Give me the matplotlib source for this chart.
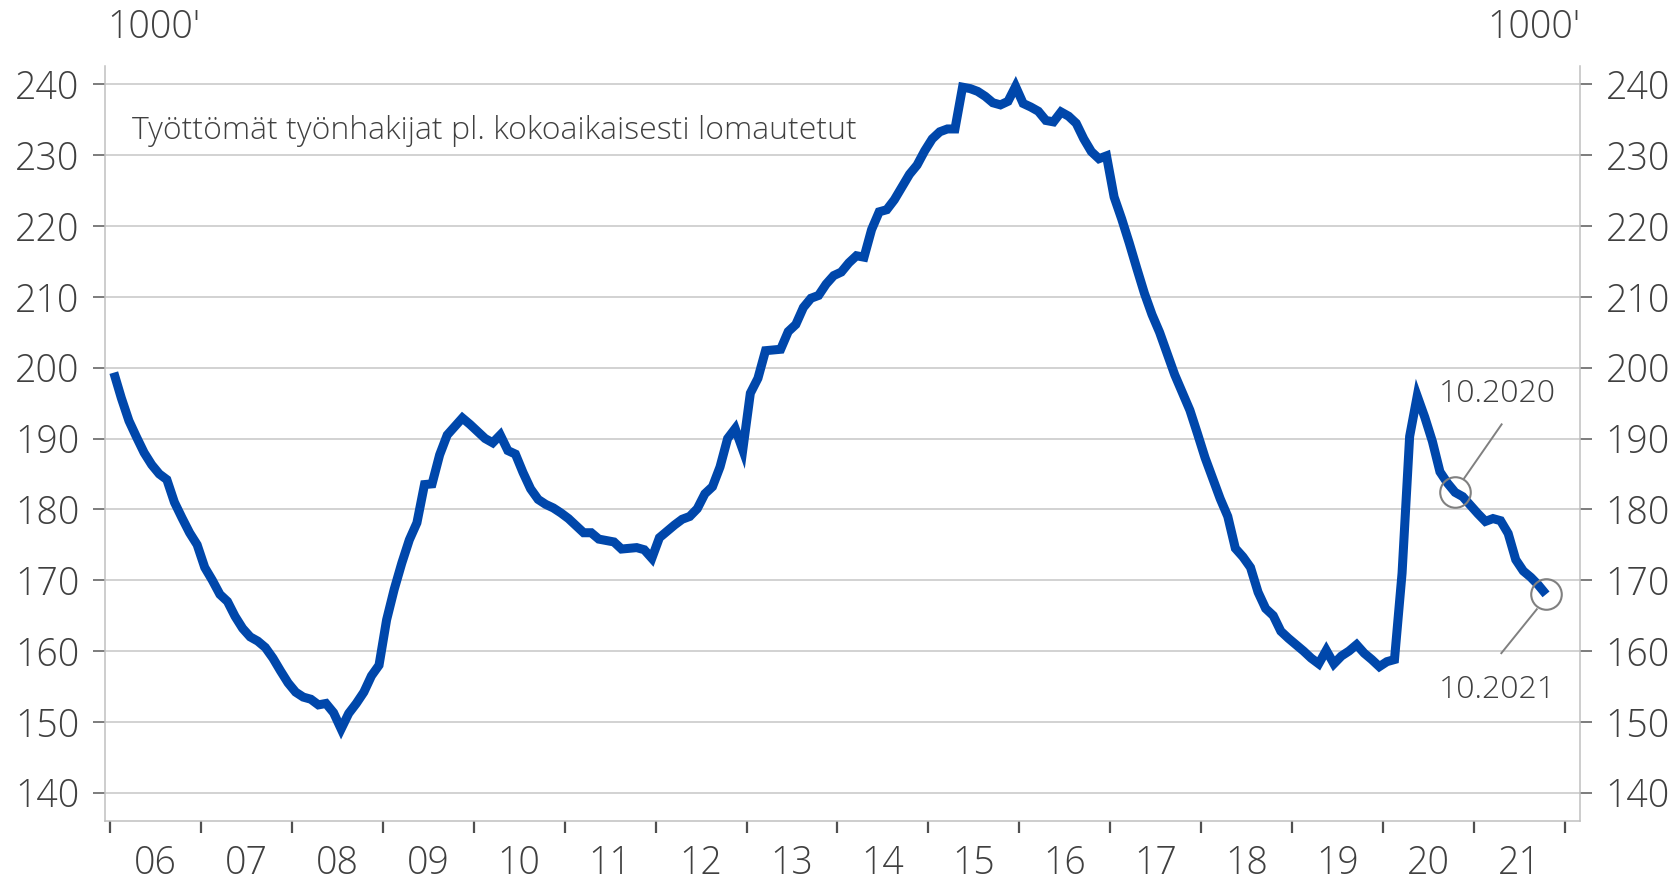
import matplotlib
matplotlib.use("Agg")
import matplotlib.pyplot as plt
import numpy as np

# ---------------- data (thousands, monthly, Jan 2006 - Oct 2021) ----------------
start_year = 2006
v2006 = [199.3, 195.7, 192.5, 190.2, 188.0, 186.3, 185.0, 184.2, 181.0, 178.8, 176.7, 175.0]
v2007 = [171.8, 170.0, 168.0, 167.0, 164.9, 163.2, 162.0, 161.4, 160.5, 159.0, 157.2, 155.5]
v2008 = [154.2, 153.5, 153.2, 152.4, 152.6, 151.3, 149.0, 151.2, 152.6, 154.2, 156.5, 158.0]
v2009 = [164.4, 168.7, 172.4, 175.7, 178.1, 183.5, 183.6, 187.7, 190.5, 191.7, 192.9, 192.0]
v2010 = [191.0, 190.0, 189.4, 190.5, 188.3, 187.8, 185.2, 182.9, 181.4, 180.7, 180.2, 179.5]
v2011 = [178.7, 177.7, 176.7, 176.7, 175.8, 175.6, 175.4, 174.4, 174.5, 174.6, 174.3, 173.1]
v2012 = [176.0, 176.9, 177.8, 178.6, 179.0, 180.1, 182.2, 183.2, 186.0, 190.0, 191.4, 188.4]
v2013 = [196.4, 198.5, 202.4, 202.5, 202.6, 205.1, 206.1, 208.5, 209.8, 210.2, 211.8, 213.0]
v2014 = [213.5, 214.8, 215.8, 215.6, 219.5, 222.0, 222.3, 223.7, 225.5, 227.3, 228.6, 230.6]
v2015 = [232.3, 233.3, 233.7, 233.7, 239.6, 239.4, 239.0, 238.3, 237.4, 237.1, 237.6, 239.7]
v2016 = [237.3, 236.8, 236.2, 234.9, 234.7, 236.1, 235.5, 234.5, 232.3, 230.5, 229.5, 229.9]
v2017 = [224.1, 221.0, 217.6, 214.0, 210.5, 207.5, 205.0, 202.0, 199.0, 196.5, 194.0, 190.7]
v2018 = [187.3, 184.4, 181.5, 179.0, 174.5, 173.3, 171.8, 168.3, 166.0, 165.0, 162.8, 161.8]
v2019 = [160.9, 160.0, 159.0, 158.2, 160.1, 158.2, 159.3, 160.0, 160.9, 159.7, 158.8, 157.8]
v2020 = [158.5, 158.8, 171.0, 190.3, 196.0, 193.0, 189.6, 185.3, 183.7, 182.4, 181.8, 180.6]
v2021 = [179.4, 178.3, 178.7, 178.4, 176.6, 172.9, 171.3, 170.4, 169.3, 168.0]

year_labels = ["06", "07", "08", "09", "10", "11", "12", "13", "14", "15",
               "16", "17", "18", "19", "20", "21"]
y_ticks = [140, 150, 160, 170, 180, 190, 200, 210, 220, 230, 240]
title_text = "Työttömät työnhakijat pl. kokoaikaisesti lomautetut"
unit_text = "1000'"
label_2020 = "10.2020"
label_2021 = "10.2021"

# ---------------- build series ----------------
values = np.array(v2006 + v2007 + v2008 + v2009 + v2010 + v2011 + v2012 + v2013 +
                  v2014 + v2015 + v2016 + v2017 + v2018 + v2019 + v2020 + v2021)
x = start_year + (np.arange(len(values)) + 0.5) / 12.0
i_2020 = (2020 - start_year) * 12 + 9
i_2021 = (2021 - start_year) * 12 + 9

plt.rcParams['font.family'] = ['Open Sans', 'DejaVu Sans']
plt.rcParams['font.weight'] = 'light'

TXT = '#404040'
GRID = '#c6c6c6'
BLUE = '#0047AB'
GREY = '#808080'

fig = plt.figure(figsize=(16.75, 8.82), dpi=100)
ax = fig.add_axes([105 / 1675, 61.3 / 882, 1475 / 1675, 755 / 882])

ax.plot(x, values, color=BLUE, lw=6.5, solid_capstyle='butt',
        solid_joinstyle='miter', zorder=3)

# highlight circles
for i in (i_2020, i_2021):
    ax.plot([x[i]], [values[i]], marker='o', ms=22, mfc='none', mec=GREY,
            mew=1.5, zorder=4)

# leader lines
ax.plot([2020.892, 2021.303], [184.4, 192.0], color=GREY, lw=1.4, zorder=4)
ax.plot([2021.69, 2021.30], [165.9, 159.7], color=GREY, lw=1.4, zorder=4)
ax.text(2021.26, 196.3, label_2020, ha='center', va='center', fontsize=23,
        color=TXT)
ax.text(2021.26, 154.5, label_2021, ha='center', va='center', fontsize=23,
        color=TXT)

ax.text(2006.24, 233.4, title_text, ha='left', va='center', fontsize=23,
        color=TXT)

ax.set_xlim(2005.945, 2022.165)
ax.set_ylim(136.05, 242.63)

# y axis both sides
ax.set_yticks(y_ticks)
ax.set_yticklabels([str(t) for t in y_ticks])
ax.tick_params(axis='y', which='both', left=True, right=True, labelleft=True,
               labelright=True, direction='out', length=8.8, width=1.1,
               color='#595959', labelsize=27, labelcolor=TXT, pad=9.5)
ax.grid(axis='y', color=GRID, lw=1.1, zorder=0)
ax.set_axisbelow(True)

# x axis: ticks at year boundaries, labels mid-year
years = np.arange(start_year, start_year + len(year_labels) + 1)
ax.set_xticks(years)
ax.set_xticklabels([''] * len(years))
ax.set_xticks(years[:-1] + 0.5, minor=True)
ax.set_xticklabels(year_labels, minor=True)
ax.tick_params(axis='x', which='major', direction='out', length=8.8, width=1.6,
               color='#505050')
ax.tick_params(axis='x', which='minor', length=0, labelsize=27,
               labelcolor=TXT, pad=17)

for s in ('left', 'right', 'bottom'):
    ax.spines[s].set_color('#c0c0c0')
    ax.spines[s].set_linewidth(1.1)
ax.spines['top'].set_visible(False)

fig.text(107 / 1675, 1 - 38 / 882, unit_text, ha='left', va='baseline',
         fontsize=27, color=TXT)
fig.text(1580 / 1675, 1 - 38 / 882, unit_text, ha='right', va='baseline',
         fontsize=27, color=TXT)

fig.savefig('out.png', dpi=100)
